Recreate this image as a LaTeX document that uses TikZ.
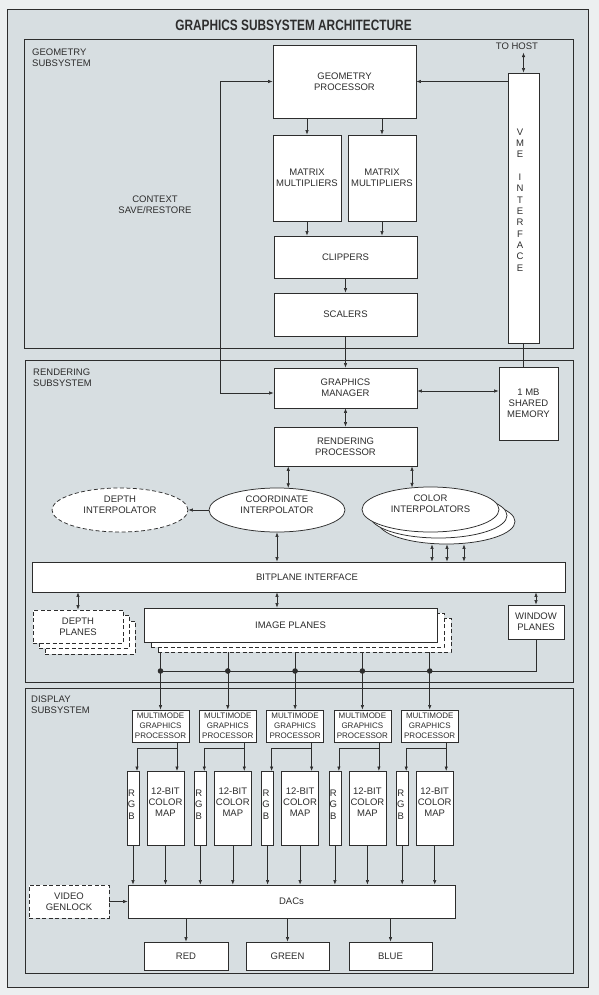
\documentclass[tikz,border=0pt]{standalone}
\usepackage{fontspec}
\setmainfont{Liberation Sans}
\usetikzlibrary{arrows.meta,shapes.geometric,calc}
\definecolor{paper}{RGB}{215,222,225}
\definecolor{margin}{RGB}{236,239,240}
\definecolor{ink}{RGB}{45,45,45}
\begin{document}
\begin{tikzpicture}[x=1pt,y=-1pt,
  lbl/.style={font=\fontsize{9.5}{11}\selectfont, text=ink, align=center, inner sep=0pt},
  smalllbl/.style={font=\fontsize{8}{10}\selectfont, text=ink, align=center, inner sep=0pt},
  box/.style={draw=ink, fill=white, line width=0.75pt, lbl, inner sep=1pt},
  dbox/.style={box, dash pattern=on 4pt off 2.5pt},
  ell/.style={ellipse, draw=ink, fill=white, line width=0.75pt, inner sep=0pt},
  dell/.style={ell, dash pattern=on 4pt off 2.5pt},
  frame/.style={draw=ink, line width=0.8pt},
  conn/.style={draw=ink, line width=0.6pt},
  arr/.style={conn, -{Latex[length=4.5pt,width=3.4pt]}},
  darr/.style={conn, {Latex[length=4.5pt,width=3.4pt]}-{Latex[length=4.5pt,width=3.4pt]}}
]
\useasboundingbox (0,0) rectangle (599,995);
\fill[margin] (0,0) rectangle (599,995);
\filldraw[fill=paper, draw=ink, line width=0.8pt] (7,9) rectangle (588,987);

% title
\node[font=\bfseries\fontsize{15}{18}\selectfont, text=ink, inner sep=0pt] (title) at (293.5,25.5)
  {\scalebox{0.79}[1]{GRAPHICS SUBSYSTEM ARCHITECTURE}};

% subsystem frames
\draw[frame] (24,39) rectangle (573,348);
\draw[frame] (25,360) rectangle (573,682);
\draw[frame] (25,688) rectangle (573,973);
\node[lbl, align=left, anchor=north west] (geolbl) at (32,48.5) {GEOMETRY\\SUBSYSTEM};
\node[lbl, align=left, anchor=north west] (renlbl) at (33,368.5) {RENDERING\\SUBSYSTEM};
\node[lbl, align=left, anchor=north west] (dislbl) at (31,695.5) {DISPLAY\\SUBSYSTEM};

% ---------------- geometry subsystem
\node[box, minimum width=143pt, minimum height=73pt] (GP) at (344.5,81.5) {GEOMETRY\\PROCESSOR};
\node[box, minimum width=68pt, minimum height=86pt] (MM1) at (307,178) {MATRIX\\MULTIPLIERS};
\node[box, minimum width=68pt, minimum height=86pt] (MM2) at (382,178) {MATRIX\\MULTIPLIERS};
\node[box, minimum width=143pt, minimum height=42pt] (CLIP) at (345.5,257) {CLIPPERS};
\node[box, minimum width=143pt, minimum height=43pt] (SCAL) at (345.5,314.5) {SCALERS};
\node[box, minimum width=31pt, minimum height=270pt] (VME) at (523.5,208) {};
\node[lbl, font=\fontsize{9.5}{11.33}\selectfont] (vmetxt) at (520,200) {V\\M\\E\\~\\I\\N\\T\\E\\R\\F\\A\\C\\E};
\node[lbl] (host) at (517,46) {TO HOST};
\node[lbl] (ctx) at (155,205) {CONTEXT\\SAVE/RESTORE};

% ---------------- rendering subsystem
\node[box, minimum width=143pt, minimum height=40pt] (GM) at (345.5,388) {GRAPHICS\\MANAGER};
\node[box, minimum width=143pt, minimum height=39pt] (RP) at (345.5,446.5) {RENDERING\\PROCESSOR};
\node[box, minimum width=59pt, minimum height=73pt] (SM) at (528.5,403.5) {1 MB\\SHARED\\MEMORY};

\node[dell, minimum width=136pt, minimum height=44pt] (DI) at (120,510) {};
\node[lbl] (DItxt) at ([yshift=5pt]DI.center) {DEPTH\\INTERPOLATOR};
\node[ell, minimum width=136pt, minimum height=44pt] (CI) at (277,510) {};
\node[lbl] (CItxt) at ([yshift=5pt]CI.center) {COORDINATE\\INTERPOLATOR};
\node[ell, minimum width=137pt, minimum height=45pt] (CLRc) at (446.5,521.5) {};
\node[ell, minimum width=137pt, minimum height=45pt] (CLRb) at (438.5,515.5) {};
\node[ell, minimum width=137pt, minimum height=45pt] (CLR) at (430.5,509.5) {};
\node[lbl] (CLRtxt) at ([yshift=6pt]CLR.center) {COLOR\\INTERPOLATORS};

\node[box, minimum width=533pt, minimum height=30pt] (BP) at (298.5,577) {};
\node[lbl] (BPtxt) at (307,577) {BITPLANE INTERFACE};

\node[dbox, minimum width=90pt, minimum height=33pt] (DP3) at (90,637.5) {};
\node[dbox, minimum width=90pt, minimum height=33pt] (DP2) at (84,631.5) {};
\node[dbox, minimum width=90pt, minimum height=33pt] (DP) at (78,626.5) {DEPTH\\PLANES};

\node[dbox, minimum width=293pt, minimum height=34pt] (IP3) at (304.5,635) {};
\node[dbox, minimum width=293pt, minimum height=34pt] (IP2) at (297.5,630) {};
\node[box, minimum width=293pt, minimum height=34pt] (IP) at (290.5,625) {IMAGE PLANES};

\node[box, minimum width=56pt, minimum height=34pt] (WP) at (536,622) {WINDOW\\PLANES};

% geometry connectors
\draw[darr] (VME.north |- host.south) ++(0,3) -- (VME.north);
\draw[arr] (VME.west |- GP.east) -- (GP.east);
\draw[darr] (GP.west) -- ++(-52,0) |- ([yshift=-5pt]GM.west);
\draw[arr] (GP.south -| MM1.north) -- (MM1.north);
\draw[arr] (GP.south -| MM2.north) -- (MM2.north);
\draw[arr] (MM1.south) -- (MM1.south |- CLIP.north);
\draw[arr] (MM2.south) -- (MM2.south |- CLIP.north);
\draw[arr] (CLIP.south) -- (SCAL.north);
\draw[arr] (SCAL.south) -- (GM.north);
\draw[conn] (VME.south) -- (VME.south |- SM.north);

% rendering connectors
\draw[darr] (GM.south) -- (RP.north);
\draw[darr] ([yshift=-3pt]GM.east) -- ([yshift=-3pt]GM.east -| SM.west);
\draw[darr] (CI.63 |- RP.south) -- (CI.63);
\draw[darr] (CLR.130 |- RP.south) -- (CLR.130);
\draw[arr] (CI.west) -- (DI.east);
\draw[darr] (CI.south) -- (CI.south |- BP.north);
\foreach \xo in {-14.5,0.5,17.5}
  \draw[darr] ([xshift=\xo pt]CLRc.south) -- ([xshift=\xo pt]CLRc.south |- BP.north);
\draw[darr] (DP.north |- BP.south) -- (DP.north);
\draw[darr] (CI.south |- BP.south) -- (CI.south |- IP.north);
\draw[darr] (WP.north |- BP.south) -- (WP.north);

% ---------------- display subsystem
\coordinate (bus) at (0,671);
\foreach \i in {0,...,4}{
  \pgfmathsetmacro\dx{67.3*\i}
  \node[box, smalllbl, minimum width=57pt, minimum height=32pt] (MGP\i) at (160.5+\dx,726) {MULTIMODE\\GRAPHICS\\PROCESSOR};
  \node[box, minimum width=12pt, minimum height=74pt] (RGB\i) at (133+\dx,808) {};
  \node[lbl, font=\fontsize{9.5}{11.5}\selectfont] (RGBt\i) at ([xshift=-1.5pt,yshift=3.5pt]RGB\i.center) {R\\G\\B};
  \node[box, minimum width=37pt, minimum height=74pt] (CM\i) at (165.5+\dx,808) {};
  \node[lbl] (CMt\i) at ([yshift=6pt]CM\i.center) {12-BIT\\COLOR\\MAP};
  \draw[arr] (MGP\i.north |- IP3.south) -- (MGP\i.north);
  \fill[ink] (MGP\i.north |- bus) circle (2.8pt);
  \draw[arr] (177+\dx,742) -- (177+\dx,771);
  \draw[arr] (177+\dx,748) -| (137+\dx,771);
}
\draw[conn] (WP.south) |- (MGP0.north |- bus);

\node[box, minimum width=327pt, minimum height=33pt] (DAC) at (291.5,901.5) {DACs};
\node[dbox, minimum width=80pt, minimum height=33pt] (VG) at (69,901.5) {VIDEO\\GENLOCK};
\foreach \i in {0,...,4}{
  \draw[arr] (RGB\i.south) -- (RGB\i.south |- DAC.north);
  \draw[arr] (CM\i.south) -- (CM\i.south |- DAC.north);
}
\draw[arr] (VG.east) -- (DAC.west);

\node[box, minimum width=84pt, minimum height=28pt] (RED) at (186,956) {RED};
\node[box, minimum width=83pt, minimum height=28pt] (GREEN) at (287.5,956) {GREEN};
\node[box, minimum width=83pt, minimum height=28pt] (BLUE) at (390.5,956) {BLUE};
\draw[arr] (RED.north |- DAC.south) -- (RED.north);
\draw[arr] (GREEN.north |- DAC.south) -- (GREEN.north);
\draw[arr] (BLUE.north |- DAC.south) -- (BLUE.north);
\end{tikzpicture}
\end{document}
